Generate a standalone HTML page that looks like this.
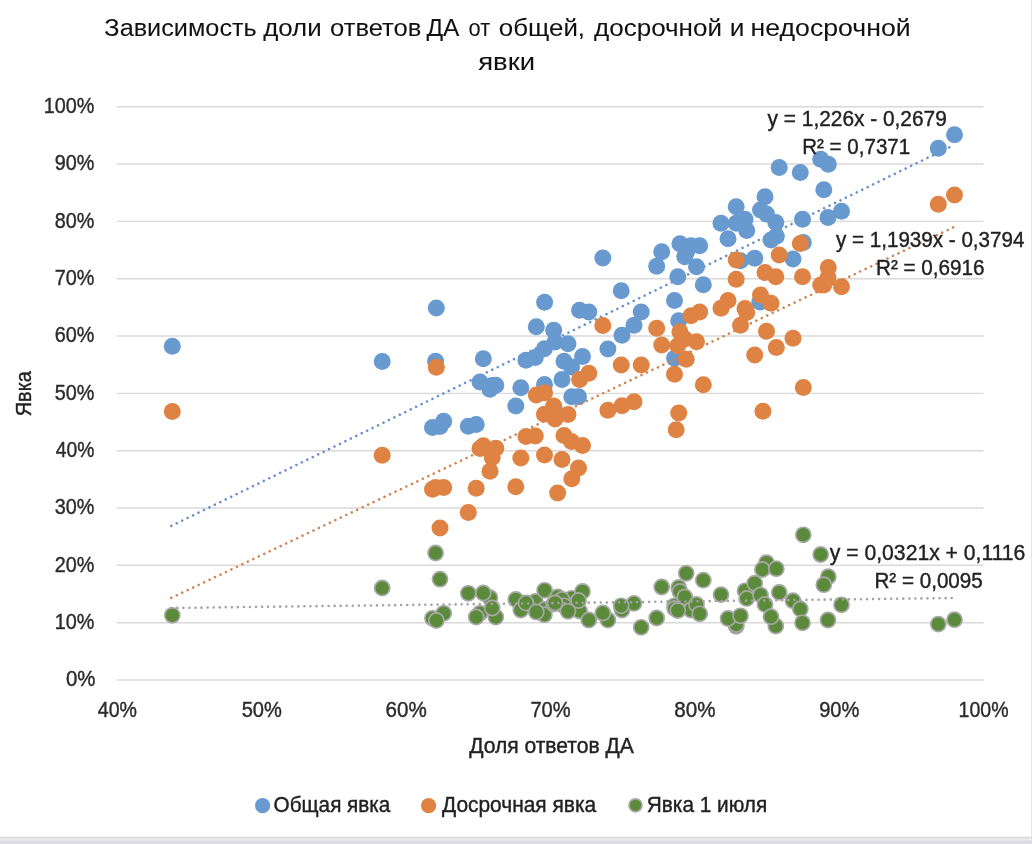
<!DOCTYPE html>
<html lang="ru"><head><meta charset="utf-8"><title>Зависимость доли ответов ДА от явки</title>
<style>html,body{margin:0;padding:0;background:#fff}body{width:1032px;height:844px;overflow:hidden;position:relative}svg{position:absolute;left:0;top:0;display:block}text{font-family:"Liberation Sans",sans-serif}</style></head><body>
<svg width="1032" height="844" viewBox="0 0 1032 844">
<rect x="0" y="0" width="1032" height="844" fill="#ffffff"/>
<rect x="1031" y="0" width="1" height="844" fill="#e6e6e6"/>
<rect x="0" y="836.7" width="1032" height="2" fill="#d9d9d9"/>
<rect x="0" y="838.7" width="1032" height="1.6" fill="#ebebeb"/>
<rect x="0" y="840.3" width="1032" height="3.7" fill="#dcdce2"/>
<g stroke="#d9d9d9" stroke-width="1.4">
<line x1="116.7" y1="680.0" x2="983.5" y2="680.0"/>
<line x1="116.7" y1="622.7" x2="983.5" y2="622.7"/>
<line x1="116.7" y1="565.3" x2="983.5" y2="565.3"/>
<line x1="116.7" y1="508.0" x2="983.5" y2="508.0"/>
<line x1="116.7" y1="450.7" x2="983.5" y2="450.7"/>
<line x1="116.7" y1="393.4" x2="983.5" y2="393.4"/>
<line x1="116.7" y1="336.0" x2="983.5" y2="336.0"/>
<line x1="116.7" y1="278.7" x2="983.5" y2="278.7"/>
<line x1="116.7" y1="221.4" x2="983.5" y2="221.4"/>
<line x1="116.7" y1="164.0" x2="983.5" y2="164.0"/>
<line x1="116.7" y1="106.7" x2="983.5" y2="106.7"/>
</g>
<line x1="171.3" y1="525.9" x2="954.5" y2="144.8" stroke="#6690c8" stroke-width="2.6" stroke-linecap="round" stroke-dasharray="0.01 6.04"/>
<g fill="#689ad0">
<circle cx="172.3" cy="346.2" r="8.5"/>
<circle cx="382.2" cy="361.6" r="8.5"/>
<circle cx="432.5" cy="427.5" r="8.5"/>
<circle cx="435.6" cy="361.2" r="8.5"/>
<circle cx="440.0" cy="426.5" r="8.5"/>
<circle cx="443.7" cy="421.3" r="8.5"/>
<circle cx="436.3" cy="308.0" r="8.5"/>
<circle cx="468.3" cy="426.3" r="8.5"/>
<circle cx="480.0" cy="382.0" r="8.5"/>
<circle cx="476.2" cy="424.5" r="8.5"/>
<circle cx="490.0" cy="389.2" r="8.5"/>
<circle cx="483.3" cy="358.8" r="8.5"/>
<circle cx="495.8" cy="385.3" r="8.5"/>
<circle cx="492.2" cy="385.5" r="8.5"/>
<circle cx="515.8" cy="406.0" r="8.5"/>
<circle cx="520.8" cy="387.7" r="8.5"/>
<circle cx="535.3" cy="357.5" r="8.5"/>
<circle cx="526.0" cy="360.3" r="8.5"/>
<circle cx="544.6" cy="302.2" r="8.5"/>
<circle cx="544.5" cy="384.4" r="8.5"/>
<circle cx="544.4" cy="348.8" r="8.5"/>
<circle cx="536.3" cy="326.8" r="8.5"/>
<circle cx="571.8" cy="396.8" r="8.5"/>
<circle cx="571.5" cy="367.0" r="8.5"/>
<circle cx="579.6" cy="310.3" r="8.5"/>
<circle cx="582.5" cy="356.6" r="8.5"/>
<circle cx="578.5" cy="396.8" r="8.5"/>
<circle cx="588.8" cy="312.0" r="8.5"/>
<circle cx="556.0" cy="412.5" r="8.5"/>
<circle cx="562.0" cy="379.5" r="8.5"/>
<circle cx="564.0" cy="361.3" r="8.5"/>
<circle cx="553.7" cy="330.3" r="8.5"/>
<circle cx="555.0" cy="342.0" r="8.5"/>
<circle cx="568.0" cy="343.8" r="8.5"/>
<circle cx="607.9" cy="348.9" r="8.5"/>
<circle cx="602.8" cy="258.0" r="8.5"/>
<circle cx="622.0" cy="335.3" r="8.5"/>
<circle cx="634.0" cy="325.2" r="8.5"/>
<circle cx="621.2" cy="290.8" r="8.5"/>
<circle cx="641.2" cy="312.0" r="8.5"/>
<circle cx="656.7" cy="266.3" r="8.5"/>
<circle cx="661.7" cy="251.7" r="8.5"/>
<circle cx="674.5" cy="300.5" r="8.5"/>
<circle cx="674.6" cy="358.3" r="8.5"/>
<circle cx="678.7" cy="320.8" r="8.5"/>
<circle cx="679.9" cy="243.8" r="8.5"/>
<circle cx="684.8" cy="256.7" r="8.5"/>
<circle cx="686.2" cy="252.5" r="8.5"/>
<circle cx="691.0" cy="245.8" r="8.5"/>
<circle cx="677.8" cy="276.7" r="8.5"/>
<circle cx="696.5" cy="266.7" r="8.5"/>
<circle cx="699.7" cy="245.8" r="8.5"/>
<circle cx="703.3" cy="284.7" r="8.5"/>
<circle cx="721.0" cy="223.3" r="8.5"/>
<circle cx="736.2" cy="206.7" r="8.5"/>
<circle cx="736.2" cy="223.3" r="8.5"/>
<circle cx="728.0" cy="238.7" r="8.5"/>
<circle cx="740.5" cy="260.8" r="8.5"/>
<circle cx="745.0" cy="219.2" r="8.5"/>
<circle cx="746.7" cy="230.5" r="8.5"/>
<circle cx="754.7" cy="258.3" r="8.5"/>
<circle cx="760.5" cy="210.0" r="8.5"/>
<circle cx="765.0" cy="196.7" r="8.5"/>
<circle cx="766.5" cy="214.0" r="8.5"/>
<circle cx="759.8" cy="302.0" r="8.5"/>
<circle cx="776.3" cy="236.2" r="8.5"/>
<circle cx="775.8" cy="222.5" r="8.5"/>
<circle cx="771.0" cy="240.0" r="8.5"/>
<circle cx="779.2" cy="167.5" r="8.5"/>
<circle cx="793.0" cy="259.0" r="8.5"/>
<circle cx="800.3" cy="172.5" r="8.5"/>
<circle cx="802.5" cy="219.2" r="8.5"/>
<circle cx="803.3" cy="242.5" r="8.5"/>
<circle cx="820.7" cy="159.2" r="8.5"/>
<circle cx="828.3" cy="164.2" r="8.5"/>
<circle cx="823.8" cy="189.7" r="8.5"/>
<circle cx="828.0" cy="217.5" r="8.5"/>
<circle cx="841.5" cy="211.3" r="8.5"/>
<circle cx="938.3" cy="148.3" r="8.5"/>
<circle cx="954.5" cy="134.7" r="8.5"/>
</g>
<line x1="171.3" y1="597.9" x2="954.5" y2="226.8" stroke="#cf8350" stroke-width="2.6" stroke-linecap="round" stroke-dasharray="0.01 6.04"/>
<g fill="#df8344">
<circle cx="172.3" cy="411.6" r="8.5"/>
<circle cx="382.2" cy="455.2" r="8.5"/>
<circle cx="432.5" cy="489.2" r="8.5"/>
<circle cx="435.6" cy="487.5" r="8.5"/>
<circle cx="440.0" cy="528.0" r="8.5"/>
<circle cx="443.7" cy="487.5" r="8.5"/>
<circle cx="436.3" cy="367.2" r="8.5"/>
<circle cx="468.3" cy="512.5" r="8.5"/>
<circle cx="480.0" cy="448.5" r="8.5"/>
<circle cx="476.2" cy="488.3" r="8.5"/>
<circle cx="490.0" cy="471.3" r="8.5"/>
<circle cx="483.3" cy="445.8" r="8.5"/>
<circle cx="495.8" cy="448.3" r="8.5"/>
<circle cx="492.2" cy="457.5" r="8.5"/>
<circle cx="515.8" cy="486.8" r="8.5"/>
<circle cx="520.8" cy="458.0" r="8.5"/>
<circle cx="535.3" cy="436.0" r="8.5"/>
<circle cx="526.0" cy="436.6" r="8.5"/>
<circle cx="544.6" cy="392.7" r="8.5"/>
<circle cx="544.5" cy="455.0" r="8.5"/>
<circle cx="544.4" cy="414.3" r="8.5"/>
<circle cx="536.3" cy="395.0" r="8.5"/>
<circle cx="571.8" cy="478.7" r="8.5"/>
<circle cx="571.5" cy="441.5" r="8.5"/>
<circle cx="579.6" cy="379.6" r="8.5"/>
<circle cx="582.5" cy="445.6" r="8.5"/>
<circle cx="578.5" cy="468.0" r="8.5"/>
<circle cx="588.8" cy="373.2" r="8.5"/>
<circle cx="557.6" cy="493.0" r="8.5"/>
<circle cx="562.0" cy="459.4" r="8.5"/>
<circle cx="564.0" cy="435.5" r="8.5"/>
<circle cx="553.7" cy="405.9" r="8.5"/>
<circle cx="555.0" cy="419.0" r="8.5"/>
<circle cx="568.0" cy="414.4" r="8.5"/>
<circle cx="607.9" cy="410.2" r="8.5"/>
<circle cx="602.8" cy="325.4" r="8.5"/>
<circle cx="622.0" cy="405.8" r="8.5"/>
<circle cx="634.0" cy="401.7" r="8.5"/>
<circle cx="621.2" cy="365.0" r="8.5"/>
<circle cx="641.2" cy="365.0" r="8.5"/>
<circle cx="656.7" cy="328.3" r="8.5"/>
<circle cx="661.7" cy="345.0" r="8.5"/>
<circle cx="674.5" cy="374.2" r="8.5"/>
<circle cx="676.2" cy="429.7" r="8.5"/>
<circle cx="678.7" cy="413.0" r="8.5"/>
<circle cx="679.9" cy="331.7" r="8.5"/>
<circle cx="684.8" cy="339.0" r="8.5"/>
<circle cx="686.2" cy="359.2" r="8.5"/>
<circle cx="691.0" cy="315.8" r="8.5"/>
<circle cx="677.8" cy="345.8" r="8.5"/>
<circle cx="696.5" cy="341.7" r="8.5"/>
<circle cx="699.7" cy="312.0" r="8.5"/>
<circle cx="703.3" cy="384.7" r="8.5"/>
<circle cx="721.0" cy="308.3" r="8.5"/>
<circle cx="736.2" cy="260.0" r="8.5"/>
<circle cx="736.2" cy="279.2" r="8.5"/>
<circle cx="728.0" cy="300.5" r="8.5"/>
<circle cx="740.5" cy="325.2" r="8.5"/>
<circle cx="745.0" cy="308.5" r="8.5"/>
<circle cx="746.7" cy="312.5" r="8.5"/>
<circle cx="754.7" cy="355.0" r="8.5"/>
<circle cx="760.5" cy="295.0" r="8.5"/>
<circle cx="765.0" cy="272.5" r="8.5"/>
<circle cx="766.5" cy="331.3" r="8.5"/>
<circle cx="762.9" cy="411.2" r="8.5"/>
<circle cx="776.3" cy="347.5" r="8.5"/>
<circle cx="775.8" cy="276.7" r="8.5"/>
<circle cx="771.0" cy="303.3" r="8.5"/>
<circle cx="779.2" cy="255.0" r="8.5"/>
<circle cx="793.0" cy="338.3" r="8.5"/>
<circle cx="800.3" cy="243.5" r="8.5"/>
<circle cx="802.5" cy="276.7" r="8.5"/>
<circle cx="803.3" cy="387.5" r="8.5"/>
<circle cx="820.7" cy="285.0" r="8.5"/>
<circle cx="828.3" cy="267.5" r="8.5"/>
<circle cx="823.8" cy="285.0" r="8.5"/>
<circle cx="828.0" cy="277.5" r="8.5"/>
<circle cx="841.5" cy="286.7" r="8.5"/>
<circle cx="938.3" cy="204.2" r="8.5"/>
<circle cx="954.5" cy="195.0" r="8.5"/>
</g>
<g fill="#5b8b3a" stroke="#a8a8a8" stroke-width="1.7">
<circle cx="172.3" cy="615.3" r="7.55"/>
<circle cx="382.2" cy="588.0" r="7.55"/>
<circle cx="432.5" cy="618.3" r="7.55"/>
<circle cx="435.6" cy="553.0" r="7.55"/>
<circle cx="440.0" cy="579.2" r="7.55"/>
<circle cx="443.7" cy="613.3" r="7.55"/>
<circle cx="436.3" cy="620.5" r="7.55"/>
<circle cx="468.3" cy="593.3" r="7.55"/>
<circle cx="480.0" cy="613.3" r="7.55"/>
<circle cx="476.2" cy="617.0" r="7.55"/>
<circle cx="490.0" cy="597.7" r="7.55"/>
<circle cx="483.3" cy="593.0" r="7.55"/>
<circle cx="495.8" cy="617.0" r="7.55"/>
<circle cx="492.2" cy="608.0" r="7.55"/>
<circle cx="515.8" cy="599.5" r="7.55"/>
<circle cx="520.8" cy="610.0" r="7.55"/>
<circle cx="535.3" cy="601.5" r="7.55"/>
<circle cx="526.0" cy="603.0" r="7.55"/>
<circle cx="544.6" cy="590.3" r="7.55"/>
<circle cx="544.5" cy="609.4" r="7.55"/>
<circle cx="544.4" cy="614.7" r="7.55"/>
<circle cx="536.3" cy="612.0" r="7.55"/>
<circle cx="571.8" cy="598.3" r="7.55"/>
<circle cx="571.5" cy="605.5" r="7.55"/>
<circle cx="579.6" cy="611.0" r="7.55"/>
<circle cx="582.5" cy="591.5" r="7.55"/>
<circle cx="578.5" cy="600.5" r="7.55"/>
<circle cx="588.8" cy="620.0" r="7.55"/>
<circle cx="557.6" cy="597.0" r="7.55"/>
<circle cx="562.0" cy="599.5" r="7.55"/>
<circle cx="564.0" cy="605.8" r="7.55"/>
<circle cx="553.7" cy="604.0" r="7.55"/>
<circle cx="555.0" cy="603.0" r="7.55"/>
<circle cx="568.0" cy="611.3" r="7.55"/>
<circle cx="607.9" cy="620.0" r="7.55"/>
<circle cx="602.8" cy="613.0" r="7.55"/>
<circle cx="622.0" cy="610.0" r="7.55"/>
<circle cx="634.0" cy="603.4" r="7.55"/>
<circle cx="621.2" cy="605.8" r="7.55"/>
<circle cx="641.2" cy="627.3" r="7.55"/>
<circle cx="656.7" cy="618.0" r="7.55"/>
<circle cx="661.7" cy="587.0" r="7.55"/>
<circle cx="674.5" cy="605.8" r="7.55"/>
<circle cx="674.8" cy="608.6" r="7.55"/>
<circle cx="678.7" cy="587.5" r="7.55"/>
<circle cx="679.9" cy="591.5" r="7.55"/>
<circle cx="684.8" cy="597.0" r="7.55"/>
<circle cx="686.2" cy="573.3" r="7.55"/>
<circle cx="691.0" cy="610.0" r="7.55"/>
<circle cx="677.8" cy="610.5" r="7.55"/>
<circle cx="696.5" cy="604.5" r="7.55"/>
<circle cx="699.7" cy="613.8" r="7.55"/>
<circle cx="703.3" cy="580.2" r="7.55"/>
<circle cx="721.0" cy="594.6" r="7.55"/>
<circle cx="736.2" cy="626.3" r="7.55"/>
<circle cx="736.2" cy="624.5" r="7.55"/>
<circle cx="728.0" cy="618.5" r="7.55"/>
<circle cx="740.5" cy="615.8" r="7.55"/>
<circle cx="745.0" cy="590.8" r="7.55"/>
<circle cx="746.7" cy="598.5" r="7.55"/>
<circle cx="754.7" cy="583.2" r="7.55"/>
<circle cx="760.5" cy="595.0" r="7.55"/>
<circle cx="765.0" cy="604.4" r="7.55"/>
<circle cx="766.5" cy="562.6" r="7.55"/>
<circle cx="762.4" cy="569.5" r="7.55"/>
<circle cx="776.3" cy="568.7" r="7.55"/>
<circle cx="775.8" cy="626.0" r="7.55"/>
<circle cx="771.0" cy="616.7" r="7.55"/>
<circle cx="779.2" cy="592.4" r="7.55"/>
<circle cx="793.0" cy="600.7" r="7.55"/>
<circle cx="800.3" cy="609.0" r="7.55"/>
<circle cx="802.5" cy="622.8" r="7.55"/>
<circle cx="803.3" cy="534.8" r="7.55"/>
<circle cx="820.7" cy="554.5" r="7.55"/>
<circle cx="828.3" cy="576.7" r="7.55"/>
<circle cx="823.8" cy="584.7" r="7.55"/>
<circle cx="828.0" cy="620.0" r="7.55"/>
<circle cx="841.5" cy="604.8" r="7.55"/>
<circle cx="938.3" cy="624.1" r="7.55"/>
<circle cx="954.5" cy="619.7" r="7.55"/>
</g>
<line x1="171.3" y1="608.0" x2="954.5" y2="598.0" stroke="#a3a3a3" stroke-width="2.6" stroke-linecap="round" stroke-dasharray="0.01 6.04"/>
<circle cx="262.6" cy="805.7" r="7.6" fill="#689ad0"/>
<circle cx="428.6" cy="805.7" r="7.6" fill="#df8344"/>
<circle cx="635.5" cy="805.3" r="6.5" fill="#5b8b3a" stroke="#a8a8a8" stroke-width="1.7"/>
<text id="y0" x="65.96" y="686.4" font-size="21.5" fill="#2b2b2b" stroke="#2b2b2b" stroke-width="0.4" textLength="29.49" lengthAdjust="spacingAndGlyphs">0%</text>
<text id="y1" x="54.79" y="629.1" font-size="21.5" fill="#2b2b2b" stroke="#2b2b2b" stroke-width="0.4" textLength="39.64" lengthAdjust="spacingAndGlyphs">10%</text>
<text id="y2" x="54.79" y="571.7" font-size="21.5" fill="#2b2b2b" stroke="#2b2b2b" stroke-width="0.4" textLength="39.64" lengthAdjust="spacingAndGlyphs">20%</text>
<text id="y3" x="54.79" y="514.4" font-size="21.5" fill="#2b2b2b" stroke="#2b2b2b" stroke-width="0.4" textLength="39.64" lengthAdjust="spacingAndGlyphs">30%</text>
<text id="y4" x="55.79" y="457.1" font-size="21.5" fill="#2b2b2b" stroke="#2b2b2b" stroke-width="0.4" textLength="38.62" lengthAdjust="spacingAndGlyphs">40%</text>
<text id="y5" x="54.79" y="399.8" font-size="21.5" fill="#2b2b2b" stroke="#2b2b2b" stroke-width="0.4" textLength="39.64" lengthAdjust="spacingAndGlyphs">50%</text>
<text id="y6" x="54.79" y="342.4" font-size="21.5" fill="#2b2b2b" stroke="#2b2b2b" stroke-width="0.4" textLength="39.64" lengthAdjust="spacingAndGlyphs">60%</text>
<text id="y7" x="54.79" y="285.1" font-size="21.5" fill="#2b2b2b" stroke="#2b2b2b" stroke-width="0.4" textLength="39.64" lengthAdjust="spacingAndGlyphs">70%</text>
<text id="y8" x="54.79" y="227.8" font-size="21.5" fill="#2b2b2b" stroke="#2b2b2b" stroke-width="0.4" textLength="39.64" lengthAdjust="spacingAndGlyphs">80%</text>
<text id="y9" x="54.79" y="170.4" font-size="21.5" fill="#2b2b2b" stroke="#2b2b2b" stroke-width="0.4" textLength="39.64" lengthAdjust="spacingAndGlyphs">90%</text>
<text id="y10" x="43.76" y="113.1" font-size="21.5" fill="#2b2b2b" stroke="#2b2b2b" stroke-width="0.4" textLength="50.65" lengthAdjust="spacingAndGlyphs">100%</text>
<text id="x0" x="97.79" y="717.2" font-size="21.5" fill="#2b2b2b" stroke="#2b2b2b" stroke-width="0.4" textLength="39.21" lengthAdjust="spacingAndGlyphs">40%</text>
<text id="x1" x="241.66" y="717.2" font-size="21.5" fill="#2b2b2b" stroke="#2b2b2b" stroke-width="0.4" textLength="40.21" lengthAdjust="spacingAndGlyphs">50%</text>
<text id="x2" x="385.51" y="717.2" font-size="21.5" fill="#2b2b2b" stroke="#2b2b2b" stroke-width="0.4" textLength="41.24" lengthAdjust="spacingAndGlyphs">60%</text>
<text id="x3" x="530.40" y="717.2" font-size="21.5" fill="#2b2b2b" stroke="#2b2b2b" stroke-width="0.4" textLength="40.21" lengthAdjust="spacingAndGlyphs">70%</text>
<text id="x4" x="674.23" y="717.2" font-size="21.5" fill="#2b2b2b" stroke="#2b2b2b" stroke-width="0.4" textLength="41.24" lengthAdjust="spacingAndGlyphs">80%</text>
<text id="x5" x="819.13" y="717.2" font-size="21.5" fill="#2b2b2b" stroke="#2b2b2b" stroke-width="0.4" textLength="40.21" lengthAdjust="spacingAndGlyphs">90%</text>
<text id="x6" x="958.59" y="717.2" font-size="21.5" fill="#2b2b2b" stroke="#2b2b2b" stroke-width="0.4" textLength="50.01" lengthAdjust="spacingAndGlyphs">100%</text>
<text id="e1a" x="767.59" y="126.0" font-size="21.5" fill="#222" stroke="#222" stroke-width="0.4" textLength="179.21" lengthAdjust="spacingAndGlyphs">y = 1,226x - 0,2679</text>
<text id="e1b" x="802.19" y="153.8" font-size="21.5" fill="#222" stroke="#222" stroke-width="0.4" textLength="108.02" lengthAdjust="spacingAndGlyphs">R² = 0,7371</text>
<text id="e2a" x="836.00" y="247.3" font-size="21.5" fill="#222" stroke="#222" stroke-width="0.4" textLength="188.40" lengthAdjust="spacingAndGlyphs">y = 1,1939x - 0,3794</text>
<text id="e2b" x="875.99" y="274.8" font-size="21.5" fill="#222" stroke="#222" stroke-width="0.4" textLength="108.62" lengthAdjust="spacingAndGlyphs">R² = 0,6916</text>
<text id="e3a" x="829.80" y="559.8" font-size="21.5" fill="#222" stroke="#222" stroke-width="0.4" textLength="195.60" lengthAdjust="spacingAndGlyphs">y = 0,0321x + 0,1116</text>
<text id="e3b" x="874.39" y="588.4" font-size="21.5" fill="#222" stroke="#222" stroke-width="0.4" textLength="108.41" lengthAdjust="spacingAndGlyphs">R² = 0,0095</text>
<text id="t1_1" x="104.39" y="35.9" font-size="24.8" fill="#111" stroke="#111" stroke-width="0.05" textLength="152.42" lengthAdjust="spacingAndGlyphs">Зависимость</text>
<text id="t1_2" x="263.19" y="35.9" font-size="24.8" fill="#111" stroke="#111" stroke-width="0.05" textLength="58.44" lengthAdjust="spacingAndGlyphs">доли</text>
<text id="t1_3" x="329.99" y="35.9" font-size="24.8" fill="#111" stroke="#111" stroke-width="0.05" textLength="91.43" lengthAdjust="spacingAndGlyphs">ответов</text>
<text id="t1_4" x="426.40" y="35.9" font-size="24.8" fill="#111" stroke="#111" stroke-width="0.05" textLength="33.01" lengthAdjust="spacingAndGlyphs">ДА</text>
<text id="t1_5" x="468.60" y="35.9" font-size="24.8" fill="#111" stroke="#111" stroke-width="0.05" textLength="21.62" lengthAdjust="spacingAndGlyphs">от</text>
<text id="t1_6" x="498.77" y="35.9" font-size="24.8" fill="#111" stroke="#111" stroke-width="0.05" textLength="86.28" lengthAdjust="spacingAndGlyphs">общей,</text>
<text id="t1_7" x="594.00" y="35.9" font-size="24.8" fill="#111" stroke="#111" stroke-width="0.05" textLength="128.00" lengthAdjust="spacingAndGlyphs">досрочной</text>
<text id="t1_8" x="729.83" y="35.9" font-size="24.8" fill="#111" stroke="#111" stroke-width="0.05" textLength="14.69" lengthAdjust="spacingAndGlyphs">и</text>
<text id="t1_9" x="750.56" y="35.9" font-size="24.8" fill="#111" stroke="#111" stroke-width="0.05" textLength="160.07" lengthAdjust="spacingAndGlyphs">недосрочной</text>
<text id="t2" x="478.20" y="69.8" font-size="24.8" fill="#111" stroke="#111" stroke-width="0.05" textLength="56.84" lengthAdjust="spacingAndGlyphs">явки</text>
<text id="xt" x="469.20" y="753.2" font-size="21.5" fill="#222" stroke="#222" stroke-width="0.4" textLength="164.61" lengthAdjust="spacingAndGlyphs">Доля ответов ДА</text>
<text id="l1" x="273.59" y="812.3" font-size="21.5" fill="#222" stroke="#222" stroke-width="0.4" textLength="116.81" lengthAdjust="spacingAndGlyphs">Общая явка</text>
<text id="l2" x="441.99" y="812.3" font-size="21.5" fill="#222" stroke="#222" stroke-width="0.4" textLength="154.21" lengthAdjust="spacingAndGlyphs">Досрочная явка</text>
<text id="l3" x="646.79" y="812.3" font-size="21.5" fill="#222" stroke="#222" stroke-width="0.4" textLength="120.41" lengthAdjust="spacingAndGlyphs">Явка 1 июля</text>
<text id="yt" transform="translate(31.2,416.20) rotate(-90)" x="0" y="0" font-size="21.5" fill="#222" stroke="#222" stroke-width="0.4" textLength="45.00" lengthAdjust="spacingAndGlyphs">Явка</text>
</svg></body></html>
